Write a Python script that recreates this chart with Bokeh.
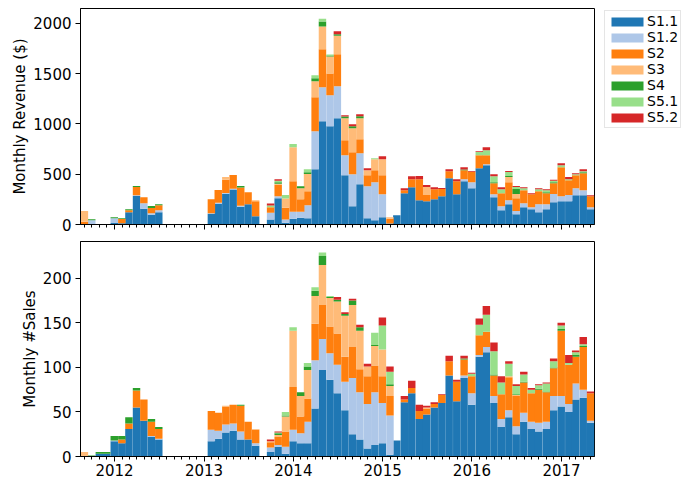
import pandas as pd
from bokeh.plotting import figure
from bokeh.models import (ColumnDataSource, Range1d, FixedTicker, DatetimeTickFormatter,
                          CustomJSTickFormatter, Legend, LegendItem)
from bokeh.layouts import column
from bokeh.embed import file_html
from bokeh.resources import INLINE

# ---------------- data ----------------
months = pd.date_range("2011-08-31", periods=69, freq="ME")   # Aug 2011 .. Apr 2017
series = ["S1.1", "S1.2", "S2", "S3", "S4", "S5.1", "S5.2"]
keys = ["s11", "s12", "s2", "s3", "s4", "s51", "s52"]
colors = ["#1f77b4", "#aec7e8", "#ff7f0e", "#ffbb78", "#2ca02c", "#98df8a", "#d62728"]

years = [2012, 2013, 2014, 2015, 2016, 2017]
rev_ticks = [0, 500, 1000, 1500, 2000]
sales_ticks = [0, 50, 100, 150, 200]

# Monthly revenue ($)
rev_s11 = [0, 0, 0, 0, 15, 12, 122, 283, 156, 98,
           122, 0, 0, 0, 0, 0, 0, 106, 207, 306,
           349, 177, 202, 83, 0, 50, 261, 17, 56, 66,
           63, 549, 1026, 976, 1056, 490, 182, 400, 63, 43,
           73, 10, 93, 311, 371, 242, 232, 252, 282, 460,
           301, 430, 361, 559, 589, 271, 142, 202, 103, 172,
           152, 122, 152, 222, 232, 232, 291, 291, 152]
rev_s12 = [0, 43, 0, 0, 46, 0, 0, 7, 56, 13,
           20, 0, 0, 0, 0, 0, 0, 7, 10, 7,
           7, 10, 0, 0, 0, 66, 20, 33, 70, 60,
           129, 377, 338, 308, 318, 199, 318, 308, 318, 377,
           228, 0, 0, 0, 0, 0, 0, 0, 0, 0,
           0, 20, 60, 0, 10, 30, 40, 40, 30, 40,
           20, 80, 50, 80, 50, 60, 70, 50, 20]
rev_s2 = [28, 0, 0, 0, 0, 42, 20, 83, 60, 53,
          50, 0, 0, 0, 0, 0, 0, 139, 126, 132,
          136, 182, 119, 149, 0, 56, 113, 116, 305, 126,
          139, 338, 377, 218, 318, 149, 218, 139, 109, 119,
          189, 46, 0, 30, 79, 209, 60, 99, 70, 70,
          129, 89, 103, 129, 89, 109, 129, 179, 129, 129,
          129, 129, 109, 109, 288, 149, 129, 169, 109]
rev_s3 = [106, 0, 0, 0, 0, 0, 0, 0, 0, 0,
          0, 0, 0, 0, 0, 0, 0, 0, 0, 26,
          0, 0, 0, 10, 0, 0, 10, 93, 338, 109,
          172, 159, 228, 169, 185, 218, 238, 209, 50, 109,
          159, 17, 0, 0, 0, 0, 80, 0, 0, 0,
          0, 0, 0, 0, 0, 0, 0, 50, 40, 0,
          0, 0, 0, 0, 0, 0, 0, 0, 0]
rev_s4 = [0, 10, 0, 0, 10, 7, 10, 10, 0, 20,
          10, 0, 0, 0, 0, 0, 0, 0, 0, 0,
          0, 13, 0, 0, 0, 0, 17, 0, 0, 20,
          17, 30, 50, 10, 13, 17, 20, 20, 0, 0,
          0, 0, 0, 0, 0, 0, 0, 0, 0, 0,
          0, 7, 0, 0, 0, 10, 0, 10, 50, 0,
          0, 0, 10, 10, 0, 0, 0, 10, 0]
rev_s51 = [0, 0, 0, 0, 0, 0, 0, 0, 0, 0,
           0, 0, 0, 0, 0, 0, 0, 0, 0, 0,
           0, 0, 0, 0, 0, 17, 13, 33, 30, 0,
           30, 30, 26, 10, 0, 0, 0, 0, 0, 10,
           0, 0, 0, 0, 0, 0, 0, 0, 0, 0,
           0, 0, 0, 33, 50, 60, 40, 40, 20, 20,
           0, 20, 20, 13, 20, 10, 10, 10, 0]
rev_s52 = [0, 0, 0, 0, 0, 0, 0, 0, 0, 0,
           0, 0, 0, 0, 0, 0, 0, 0, 0, 0,
           0, 0, 0, 0, 0, 20, 17, 0, 0, 0,
           0, 0, 0, 0, 30, 13, 20, 20, 20, 0,
           30, 0, 0, 20, 30, 30, 20, 20, 10, 20,
           20, 23, 7, 7, 30, 20, 20, 10, 10, 10,
           10, 10, 10, 10, 20, 20, 10, 20, 10]

# Monthly number of sales
sal_s11 = [0, 0, 3, 3, 17, 15, 31, 55, 40, 22,
           19, 0, 0, 0, 0, 0, 0, 17, 20, 27,
           29, 19, 19, 12, 0, 5, 11, 3, 17, 15,
           15, 54, 97, 86, 71, 52, 25, 19, 9, 13,
           15, 2, 18, 61, 71, 42, 47, 55, 60, 91,
           62, 88, 58, 112, 117, 60, 33, 44, 25, 39,
           31, 28, 31, 52, 56, 50, 64, 66, 38]
sal_s12 = [0, 0, 0, 0, 1, 0, 0, 0, 0, 1,
           1, 0, 0, 0, 0, 0, 0, 13, 9, 9,
           8, 9, 0, 3, 0, 5, 2, 8, 13, 11,
           24, 54, 35, 30, 32, 32, 63, 53, 50, 59,
           45, 44, 0, 0, 0, 0, 0, 0, 0, 0,
           0, 3, 13, 2, 6, 8, 9, 8, 9, 10,
           8, 10, 8, 16, 12, 9, 18, 9, 2]
sal_s2 = [1, 0, 0, 0, 0, 4, 6, 19, 24, 16,
          11, 0, 0, 0, 0, 0, 0, 21, 20, 20,
          21, 29, 20, 15, 0, 6, 9, 17, 48, 19,
          26, 41, 38, 30, 35, 28, 35, 26, 31, 30,
          30, 22, 0, 3, 6, 9, 7, 4, 9, 16,
          22, 18, 19, 22, 17, 23, 28, 37, 34, 34,
          32, 37, 33, 31, 73, 44, 30, 48, 31]
sal_s3 = [4, 0, 0, 0, 0, 0, 0, 0, 0, 0,
          0, 0, 0, 0, 0, 0, 0, 0, 0, 1,
          0, 0, 0, 1, 0, 1, 2, 17, 63, 23,
          32, 31, 45, 32, 36, 46, 47, 43, 11, 22,
          30, 11, 0, 0, 0, 0, 1, 0, 0, 0,
          0, 0, 0, 0, 0, 0, 0, 1, 1, 0,
          0, 0, 0, 0, 0, 0, 0, 0, 0]
sal_s4 = [0, 1, 2, 2, 5, 4, 7, 3, 0, 3,
          2, 0, 0, 0, 0, 0, 0, 0, 0, 0,
          0, 1, 0, 0, 0, 0, 2, 1, 0, 4,
          4, 6, 10, 1, 2, 2, 5, 4, 0, 1,
          0, 2, 0, 0, 0, 0, 0, 0, 0, 0,
          0, 1, 0, 0, 0, 1, 0, 0, 1, 1,
          0, 1, 1, 1, 2, 0, 2, 1, 0]
sal_s51 = [0, 0, 0, 0, 0, 0, 0, 0, 0, 0,
           0, 0, 0, 0, 0, 0, 0, 0, 0, 0,
           0, 0, 0, 0, 0, 0, 1, 4, 4, 0,
           4, 4, 4, 1, 0, 0, 0, 0, 0, 14,
           27, 14, 0, 0, 0, 0, 0, 0, 0, 0,
           0, 0, 3, 12, 19, 26, 13, 14, 9, 8,
           4, 4, 9, 7, 4, 2, 3, 2, 0]
sal_s52 = [0, 0, 0, 0, 0, 0, 0, 0, 0, 0,
           0, 0, 0, 0, 0, 0, 0, 0, 0, 0,
           0, 0, 0, 0, 0, 2, 1, 0, 0, 0,
           0, 0, 0, 0, 3, 2, 2, 3, 3, 0,
           9, 6, 0, 4, 8, 7, 2, 2, 1, 6,
           2, 3, 1, 7, 10, 10, 7, 3, 2, 3,
           2, 1, 1, 3, 3, 9, 2, 8, 2]

# ---------------- helpers ----------------
def ms(ts):
    return pd.Timestamp(ts).value / 1e6

FONT = "DejaVu Sans"
FS = "15px"
DAY = 86400000
BAR_W = 30.44 * DAY

year_ticks = [ms(f"{y}-01-01") for y in years]
month_ticks = [ms(t) for t in pd.date_range("2011-08-01", "2017-06-01", freq="MS")]

xr = Range1d(start=pd.Timestamp("2011-08-15"), end=pd.Timestamp("2017-05-16"))


def make_fig(ylabel, yend, yticks, fh, bt, bb, show_xlabels):
    p = figure(frame_width=514, frame_height=fh, x_axis_type="datetime", x_range=xr,
               y_range=Range1d(0, yend), output_backend="svg", toolbar_location=None,
               tools="", min_border_left=80, min_border_right=95,
               min_border_top=bt, min_border_bottom=bb,
               background_fill_color="white", border_fill_color="white")
    p.grid.visible = False
    p.outline_line_color = "black"
    p.outline_line_width = 1
    p.outline_line_alpha = 1

    for ax in (p.xaxis[0], p.yaxis[0]):
        ax.axis_line_color = "black"
        ax.major_tick_line_color = "black"
        ax.minor_tick_line_color = "black"
        ax.major_tick_out = 5
        ax.major_tick_in = 0
        ax.major_label_text_font = FONT
        ax.major_label_text_font_size = FS
        ax.major_label_text_color = "black"
        ax.axis_label_text_font = FONT
        ax.axis_label_text_font_size = FS
        ax.axis_label_text_font_style = "normal"
        ax.axis_label_text_color = "black"

    yax = p.yaxis[0]
    yax.ticker = FixedTicker(ticks=yticks)
    yax.minor_tick_line_color = None
    yax.major_label_standoff = 4
    yax.axis_label = ylabel
    yax.axis_label_standoff = 1

    xax = p.xaxis[0]
    xax.ticker = FixedTicker(ticks=year_ticks, minor_ticks=month_ticks)
    xax.minor_tick_out = 3
    xax.minor_tick_in = 0
    if show_xlabels:
        xax.formatter = DatetimeTickFormatter(years="%Y", months="%Y", days="%Y")
        xax.major_label_standoff = 2
    else:
        xax.formatter = CustomJSTickFormatter(code="return ''")
        xax.major_label_standoff = 0
    return p


# ---------------- revenue ----------------
rev_src = ColumnDataSource(dict(month=months, s11=rev_s11, s12=rev_s12, s2=rev_s2,
                                s3=rev_s3, s4=rev_s4, s51=rev_s51, s52=rev_s52))
p1 = make_fig("Monthly Revenue ($)", 2147, rev_ticks, 216, 8, 10, False)
rs = p1.vbar_stack(keys, x="month", width=BAR_W, color=colors, line_color=None,
                   source=rev_src)

lg = Legend(items=[LegendItem(label=s, renderers=[r]) for s, r in zip(series, rs)])
lg.location = (10, 96)
lg.orientation = "vertical"
lg.label_text_font = FONT
lg.label_text_font_size = "14px"
lg.label_text_color = "black"
lg.glyph_width = 40
lg.glyph_height = 11
lg.label_standoff = -3
lg.label_height = 15
lg.spacing = 0
lg.padding = 2
lg.margin = 0
lg.border_line_color = "#cccccc"
lg.border_line_width = 1
lg.background_fill_color = "white"
lg.background_fill_alpha = 1
p1.add_layout(lg, "right")

# ---------------- sales ----------------
sal_src = ColumnDataSource(dict(month=months, s11=sal_s11, s12=sal_s12, s2=sal_s2,
                                s3=sal_s3, s4=sal_s4, s51=sal_s51, s52=sal_s52))
p2 = make_fig("Monthly #Sales", 241.3, sales_ticks, 215, 7, 25, True)
p2.vbar_stack(keys, x="month", width=BAR_W, color=colors, line_color=None,
              source=sal_src)

layout = column(p1, p2, spacing=0)
open("out.html", "w").write(file_html(layout, INLINE))
